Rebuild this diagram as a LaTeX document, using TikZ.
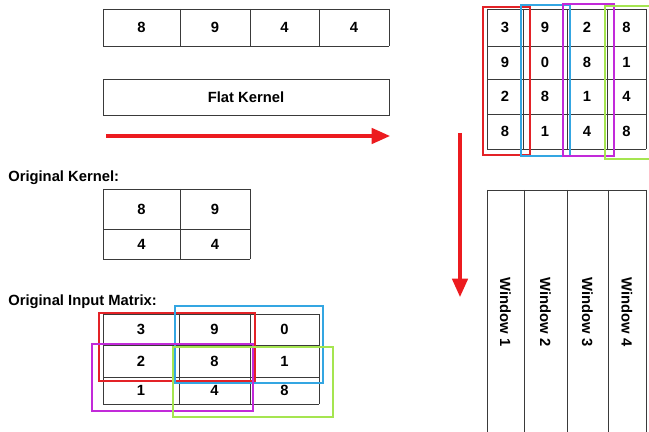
\documentclass[tikz,border=0pt]{standalone}
\usepackage{fontspec}
\setmainfont{Liberation Sans}
\usepackage{xcolor}
\usetikzlibrary{arrows.meta}

\definecolor{gridgray}{HTML}{3A3A3A}
\definecolor{flowred}{HTML}{EC1B1F}
\definecolor{winred}{HTML}{E32227}
\definecolor{winblue}{HTML}{34A6E2}
\definecolor{winpurple}{HTML}{C22AD9}
\definecolor{wingreen}{HTML}{A5E550}

\tikzset{
    grid/.style={draw=gridgray, line width=0.6pt},
    num/.style={font=\fontsize{10.5}{12}\selectfont\bfseries, inner sep=0pt},
    title/.style={num, anchor=west},
    frame/.style={line width=1.3pt},
    flow/.style={draw=flowred, line width=2.2pt,
        -{Triangle[length=13pt,width=11pt]}},
}

\begin{document}
\begin{tikzpicture}[x=0.025cm, y=-0.025cm]
    \useasboundingbox (0,0) rectangle (649,432);

    % flattened kernel
    \draw[grid] (103,9) -- (389,9) (103,46) -- (389,46);
    \foreach \x in {103,180,250,319,389}
        \draw[grid] (\x,9) -- (\x,46);
    \foreach \v/\x [count=\i] in {8/141.5,9/215,4/284.5,4/354}
        \node[num] (flat\i) at (\x,27.5) {\v};
    \node[grid, num, minimum width=7.15cm, minimum height=0.9cm]
        (flatbox) at (246,97) {Flat Kernel};

    \coordinate (rowstart) at (106,136);
    \coordinate (rowend) at (390,136);
    \draw[flow] (rowstart) -- (rowend);

    % kernel
    \node[title] (kernellabel) at (8,178) {Original Kernel:};
    \foreach \y in {189,229,259}
        \draw[grid] (103,\y) -- (250,\y);
    \foreach \x in {103,180,250}
        \draw[grid] (\x,189) -- (\x,259);
    \node[num] (ker1) at (141.5,209) {8};
    \node[num] (ker2) at (215,209) {9};
    \node[num] (ker3) at (141.5,244) {4};
    \node[num] (ker4) at (215,244) {4};

    % input matrix
    \node[title] (inputlabel) at (8,302) {Original Input Matrix:};
    \foreach \y in {314,345,377,404}
        \draw[grid] (103,\y) -- (319,\y);
    \foreach \x in {103,179,250,319}
        \draw[grid] (\x,314) -- (\x,404);
    \foreach \vals [count=\r] in {{3,9,0},{2,8,1},{1,4,8}}
        \foreach \v [count=\c] in \vals {
            \pgfmathsetmacro\cx{{141,214.5,284.5}[\c-1]}
            \pgfmathsetmacro\cy{{329.5,361,390.5}[\r-1]}
            \node[num] (in\r\c) at (\cx,\cy) {\v};
        }
    \draw[frame, winred] (99,313) rectangle (255,381);
    \draw[frame, winblue] (175,306) rectangle (323,383);
    \draw[frame, winpurple] (92,344) rectangle (253,411);
    \draw[frame, wingreen] (173,347) rectangle (333,417);

    % unrolled windows
    \foreach \y in {9,46,79,114,149}
        \draw[grid] (487,\y) -- (646,\y);
    \foreach \x in {487,523,567,607,646}
        \draw[grid] (\x,9) -- (\x,149);
    \foreach \vals [count=\r] in {{3,9,2,8},{9,0,8,1},{2,8,1,4},{8,1,4,8}}
        \foreach \v [count=\c] in \vals {
            \pgfmathsetmacro\cx{{505,545,587,626.5}[\c-1]}
            \pgfmathsetmacro\cy{{27.5,62.5,96.5,131.5}[\r-1]}
            \node[num] (col\r\c) at (\cx,\cy) {\v};
        }
    \draw[frame, winred] (483,7) rectangle (530,155);
    \draw[frame, winblue] (521,5) rectangle (570,156);
    \draw[frame, winpurple] (563,4) rectangle (614,156);
    \draw[frame, wingreen] (605,6) rectangle (660,159);

    \coordinate (colstart) at (460,133);
    \coordinate (colend) at (460,297);
    \draw[flow] (colstart) -- (colend);

    \draw[grid] (487,190) -- (646,190);
    \foreach \x in {487,524,567,608,646}
        \draw[grid] (\x,190) -- (\x,440);
    \foreach \x [count=\i] in {505.5,545.5,587.5,627}
        \node[num, rotate=-90] (window\i) at (\x,312) {Window \i};
\end{tikzpicture}
\end{document}
